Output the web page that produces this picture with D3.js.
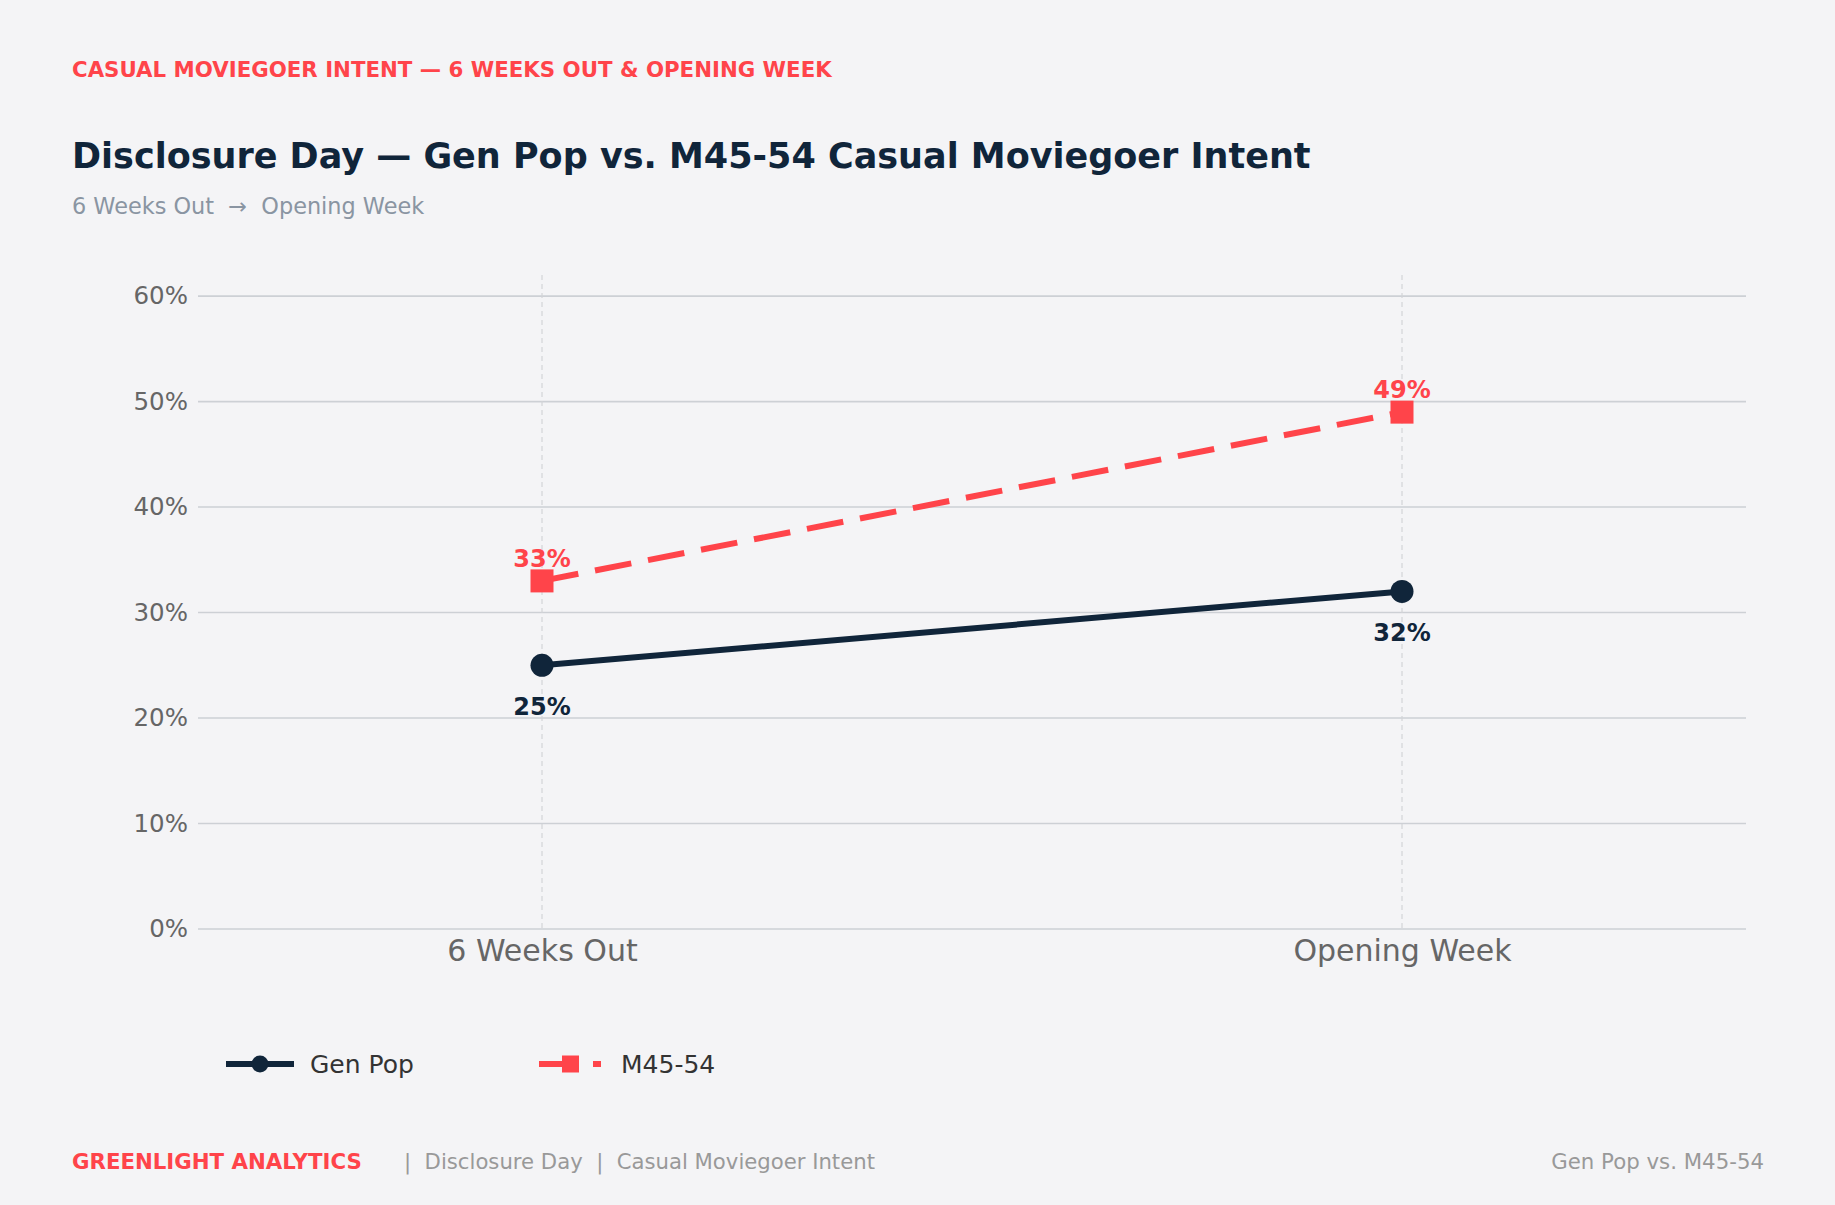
<!DOCTYPE html>
<html>
<head>
<meta charset="utf-8">
<script src="https://cdn.jsdelivr.net/npm/d3@7"></script>
<style>
  body { margin: 0; background: #f4f4f6; }
  svg { display: block; font-family: "DejaVu Sans", sans-serif; }
</style>
</head>
<body>
<div id="chart-area"></div>
<script>
// chart data
var periods = ["6 Weeks Out", "Opening Week"];
var genPop = [25, 32];
var m4554 = [33, 49];
var yTicks = [0, 10, 20, 30, 40, 50, 60];
var seriesNames = ["Gen Pop", "M45-54"];

var navy = "#10253a";
var red = "#ff444a";
var width = 1835, height = 1205;

var svg = d3.select("#chart-area").append("svg")
    .attr("width", width)
    .attr("height", height);

svg.append("rect").attr("width", width).attr("height", height).attr("fill", "#f4f4f6");

// header
svg.append("text")
    .attr("x", 72).attr("y", 77)
    .attr("font-size", "21.3px").attr("font-weight", "bold")
    .attr("fill", red)
    .text("CASUAL MOVIEGOER INTENT — 6 WEEKS OUT & OPENING WEEK");

svg.append("text")
    .attr("x", 72).attr("y", 168)
    .attr("font-size", "35px").attr("font-weight", "bold")
    .attr("fill", navy)
    .text("Disclosure Day — Gen Pop vs. M45-54 Casual Moviegoer Intent");

svg.append("text")
    .attr("x", 72).attr("y", 214)
    .attr("font-size", "22.4px")
    .attr("fill", "#8a95a2")
    .style("white-space", "pre")
    .text("6 Weeks Out  →  Opening Week");

// scales
var x = d3.scaleLinear().domain([-0.4, 1.4]).range([198, 1746]);
var y = d3.scaleLinear().domain([0, 62]).range([929, 275]);

var g = svg.append("g");

// horizontal grid
g.selectAll(".grid").data(yTicks).enter().append("line")
    .attr("x1", x.range()[0]).attr("x2", x.range()[1])
    .attr("y1", d => y(d)).attr("y2", d => y(d))
    .attr("stroke", "#cdd0d5").attr("stroke-width", 1.6);

// vertical dashed guides
g.selectAll(".vguide").data(periods).enter().append("line")
    .attr("x1", (d, i) => x(i)).attr("x2", (d, i) => x(i))
    .attr("y1", y.range()[1]).attr("y2", y.range()[0])
    .attr("stroke", "#d2d4d8").attr("stroke-width", 1.2)
    .attr("stroke-dasharray", "5,4");

// y axis
var leftAxis = d3.axisLeft(y).tickValues(yTicks).tickSize(0).tickPadding(10)
    .tickFormat(d => d + "%");
var ya = g.append("g").attr("transform", "translate(198,0)").call(leftAxis);
ya.select(".domain").remove();
ya.selectAll("text").attr("font-size", "24.5px").attr("fill", "#666").attr("font-family", "DejaVu Sans");

// x axis
var bottomAxis = d3.axisBottom(x).tickValues([0, 1]).tickSize(0).tickPadding(11)
    .tickFormat(i => periods[i]);
var xa = g.append("g").attr("transform", "translate(0,929)").call(bottomAxis);
xa.select(".domain").remove();
xa.selectAll("text").attr("font-size", "30px").attr("fill", "#666").attr("font-family", "DejaVu Sans");

var line = d3.line().x((d, i) => x(i)).y(d => y(d));

// M45-54 dashed
g.append("path").datum(m4554)
    .attr("d", line).attr("fill", "none")
    .attr("stroke", red).attr("stroke-width", 6)
    .attr("stroke-dasharray", "37,17");
g.selectAll(".sq").data(m4554).enter().append("rect")
    .attr("x", (d, i) => x(i) - 11.5).attr("y", d => y(d) - 11.5)
    .attr("width", 23).attr("height", 23).attr("fill", red);
g.selectAll(".lblm").data(m4554).enter().append("text")
    .attr("x", (d, i) => x(i)).attr("y", d => y(d) - 14)
    .attr("text-anchor", "middle").attr("font-size", "24px").attr("font-weight", "bold")
    .attr("fill", red).text(d => d + "%");

// Gen Pop solid
g.append("path").datum(genPop)
    .attr("d", line).attr("fill", "none")
    .attr("stroke", navy).attr("stroke-width", 6);
g.selectAll(".dot").data(genPop).enter().append("circle")
    .attr("cx", (d, i) => x(i)).attr("cy", d => y(d)).attr("r", 11.5)
    .attr("fill", navy);
g.selectAll(".lblg").data(genPop).enter().append("text")
    .attr("x", (d, i) => x(i)).attr("y", d => y(d) + 50)
    .attr("text-anchor", "middle").attr("font-size", "24px").attr("font-weight", "bold")
    .attr("fill", navy).text(d => d + "%");

// legend
var legend = svg.append("g").attr("transform", "translate(0,1064)");
var lg1 = legend.append("g").attr("transform", "translate(226,0)");
lg1.append("line").attr("x1", 0).attr("x2", 68).attr("stroke", navy).attr("stroke-width", 6);
lg1.append("circle").attr("cx", 34).attr("r", 8.5).attr("fill", navy);
lg1.append("text").attr("x", 84).attr("y", 9).attr("font-size", "25px").attr("fill", "#333").text(seriesNames[0]);

var lg2 = legend.append("g").attr("transform", "translate(539,0)");
lg2.append("line").attr("x1", 0).attr("x2", 62).attr("stroke", red).attr("stroke-width", 6)
    .attr("stroke-dasharray", "37,17");
lg2.append("rect").attr("x", 23).attr("y", -8.5).attr("width", 17).attr("height", 17).attr("fill", red);
lg2.append("text").attr("x", 82).attr("y", 9).attr("font-size", "25px").attr("fill", "#333").text(seriesNames[1]);

// footer
svg.append("text")
    .attr("x", 72).attr("y", 1169)
    .attr("font-size", "21.3px").attr("font-weight", "bold")
    .attr("fill", red)
    .text("GREENLIGHT ANALYTICS");
svg.append("text")
    .attr("x", 404).attr("y", 1169)
    .attr("font-size", "21.2px").attr("fill", "#999")
    .style("white-space", "pre")
    .text("|  Disclosure Day  |  Casual Moviegoer Intent");
svg.append("text")
    .attr("x", 1764).attr("y", 1169)
    .attr("text-anchor", "end")
    .attr("font-size", "21.3px").attr("fill", "#999")
    .text("Gen Pop vs. M45-54");
</script>
</body>
</html>
